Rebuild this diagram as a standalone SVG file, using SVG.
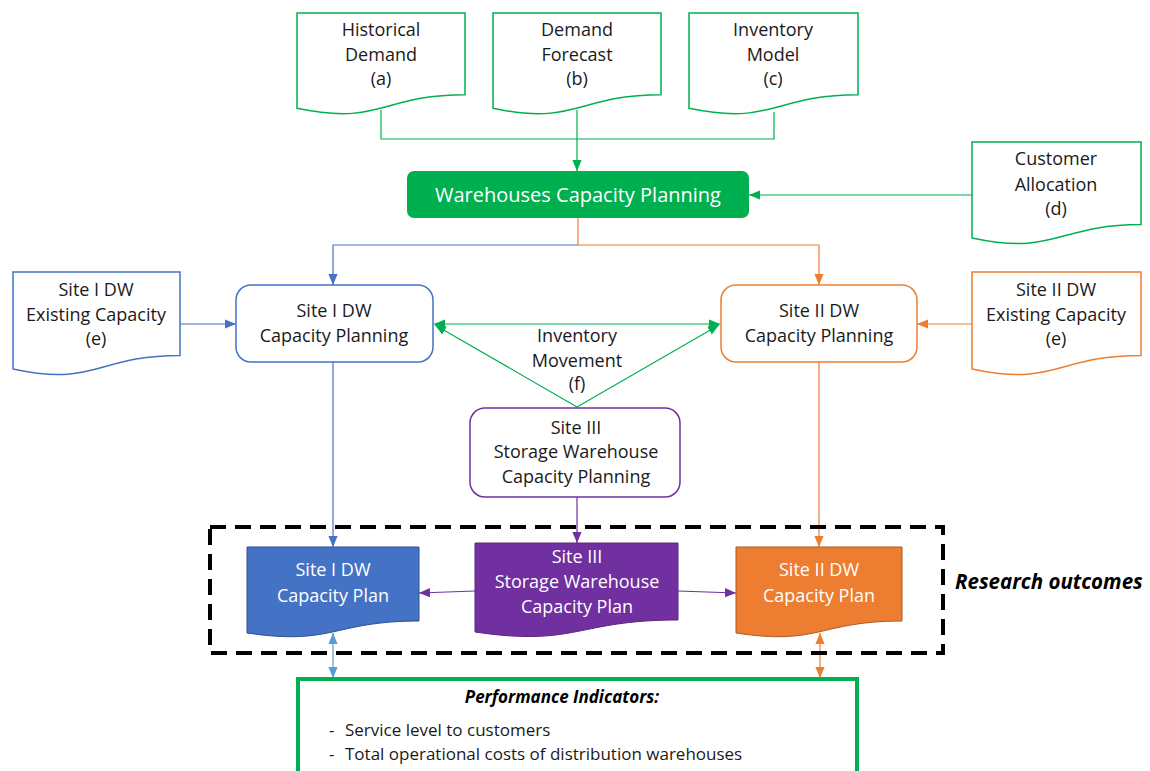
<svg xmlns="http://www.w3.org/2000/svg" width="1150" height="771" viewBox="0 0 1150 771">
<defs>
<style>
.t{font-family:"Open Sans","Liberation Sans",sans-serif;font-size:18px;fill:#1a1a1a;text-anchor:middle}
.w{fill:#ffffff}
.bi{font-weight:bold;font-style:italic}
.gdoc{fill:#ffffff;stroke:#00B050;stroke-width:1.5}
.bdoc{fill:#ffffff;stroke:#4472C4;stroke-width:1.5}
.odoc{fill:#ffffff;stroke:#ED7D31;stroke-width:1.5}
.c{fill:none;stroke-width:1.2}
</style>
<marker id="ag" viewBox="0 0 10 10" refX="10" refY="5" markerWidth="11" markerHeight="11" markerUnits="userSpaceOnUse" orient="auto-start-reverse"><path d="M0,0.8 L10,5 L0,9.2 z" fill="#00B050"/></marker>
<marker id="ab" viewBox="0 0 10 10" refX="10" refY="5" markerWidth="11" markerHeight="11" markerUnits="userSpaceOnUse" orient="auto-start-reverse"><path d="M0,0.8 L10,5 L0,9.2 z" fill="#4472C4"/></marker>
<marker id="alb" viewBox="0 0 10 10" refX="10" refY="5" markerWidth="11" markerHeight="11" markerUnits="userSpaceOnUse" orient="auto-start-reverse"><path d="M0,0.8 L10,5 L0,9.2 z" fill="#5B9BD5"/></marker>
<marker id="ao" viewBox="0 0 10 10" refX="10" refY="5" markerWidth="11" markerHeight="11" markerUnits="userSpaceOnUse" orient="auto-start-reverse"><path d="M0,0.8 L10,5 L0,9.2 z" fill="#ED7D31"/></marker>
<marker id="ap" viewBox="0 0 10 10" refX="10" refY="5" markerWidth="11" markerHeight="11" markerUnits="userSpaceOnUse" orient="auto-start-reverse"><path d="M0,0.8 L10,5 L0,9.2 z" fill="#7030A0"/></marker>
</defs>
<rect width="1150" height="771" fill="#ffffff"/>

<g id="connectors">
<path class="c" d="M381,110 V139 H774 V112" stroke="#00B050"/>
<path class="c" d="M577,110 V171" stroke="#00B050" marker-end="url(#ag)"/>
<path class="c" d="M972,195 H749" stroke="#00B050" marker-end="url(#ag)"/>
<path class="c" d="M578,218 V245" stroke="#ED7D31"/>
<path class="c" d="M578,245 H333 V285" stroke="#4472C4" marker-end="url(#ab)"/>
<path class="c" d="M578,245 H819 V285" stroke="#ED7D31" marker-end="url(#ao)"/>
<path class="c" d="M180,324 H236" stroke="#4472C4" marker-end="url(#ab)"/>
<path class="c" d="M972,324 H917" stroke="#ED7D31" marker-end="url(#ao)"/>
<path class="c" d="M434,324 H720" stroke="#00B050" marker-start="url(#ag)" marker-end="url(#ag)"/>
<path class="c" d="M577,407 L435,325" stroke="#00B050" marker-end="url(#ag)"/>
<path class="c" d="M577,407 L719,325" stroke="#00B050" marker-end="url(#ag)"/>
<path class="c" d="M333,362 V547" stroke="#4472C4" marker-end="url(#ab)"/>
<path class="c" d="M819,362 V547" stroke="#ED7D31" marker-end="url(#ao)"/>
<path class="c" d="M577,497 V543" stroke="#7030A0" marker-end="url(#ap)"/>
<path class="c" d="M475,591 L419,593" stroke="#7030A0" marker-end="url(#ap)"/>
<path class="c" d="M678,591 L736,593" stroke="#7030A0" marker-end="url(#ap)"/>
<path class="c" d="M333,633 V678" stroke="#5B9BD5" marker-start="url(#alb)" marker-end="url(#alb)"/>
<path class="c" d="M820,633 V678" stroke="#ED7D31" marker-start="url(#ao)" marker-end="url(#ao)"/>
</g>

<g id="historical-demand">
<path class="gdoc" d="M297,13 H465 V94.8 C381,94.8 381,126 297,108.3 Z"/>
<text class="t" x="381" y="36">Historical</text>
<text class="t" x="381" y="61">Demand</text>
<text class="t" x="381" y="85">(a)</text>
</g>
<g id="demand-forecast">
<path class="gdoc" d="M493,13 H661 V94.8 C577,94.8 577,126 493,108.3 Z"/>
<text class="t" x="577" y="36">Demand</text>
<text class="t" x="577" y="61">Forecast</text>
<text class="t" x="577" y="85">(b)</text>
</g>
<g id="inventory-model">
<path class="gdoc" d="M689,13 H858 V94.8 C773.5,94.8 773.5,126 689,108.3 Z"/>
<text class="t" x="773" y="36">Inventory</text>
<text class="t" x="773" y="61">Model</text>
<text class="t" x="773" y="85">(c)</text>
</g>
<g id="customer-allocation">
<path class="gdoc" d="M972,142 H1141 V224.6 C1056.5,224.6 1056.5,256 972,238 Z"/>
<text class="t" x="1056" y="165">Customer</text>
<text class="t" x="1056" y="191">Allocation</text>
<text class="t" x="1056" y="215">(d)</text>
</g>
<g id="warehouses-capacity-planning">
<rect x="407" y="171" width="342" height="47" rx="7" fill="#00B050"/>
<text class="t w" x="578" y="202" style="font-size:20px">Warehouses Capacity Planning</text>
</g>
<g id="site1-existing">
<path class="bdoc" d="M13,272 H180 V355.4 C96.5,355.4 96.5,387 13,369 Z"/>
<text class="t" x="96" y="296">Site I DW</text>
<text class="t" x="96" y="321">Existing Capacity</text>
<text class="t" x="96" y="345">(e)</text>
</g>
<g id="site2-existing">
<path class="odoc" d="M972,272 H1141 V355.4 C1056.5,355.4 1056.5,387 972,369 Z"/>
<text class="t" x="1056" y="296">Site II DW</text>
<text class="t" x="1056" y="321">Existing Capacity</text>
<text class="t" x="1056" y="345">(e)</text>
</g>
<g id="site1-planning">
<rect x="236" y="285" width="197" height="77" rx="15" fill="#ffffff" stroke="#4472C4" stroke-width="1.5"/>
<text class="t" x="334" y="317">Site I DW</text>
<text class="t" x="334" y="342">Capacity Planning</text>
</g>
<g id="site2-planning">
<rect x="721" y="285" width="196" height="77" rx="15" fill="#ffffff" stroke="#ED7D31" stroke-width="1.5"/>
<text class="t" x="819" y="317">Site II DW</text>
<text class="t" x="819" y="342">Capacity Planning</text>
</g>
<g id="inventory-movement">
<text class="t" x="577" y="342">Inventory</text>
<text class="t" x="577" y="367">Movement</text>
<text class="t" x="577" y="390">(f)</text>
</g>
<g id="site3-planning">
<rect x="470" y="408" width="210" height="89" rx="15" fill="#ffffff" stroke="#7030A0" stroke-width="1.5"/>
<text class="t" x="576" y="434">Site III</text>
<text class="t" x="576" y="458">Storage Warehouse</text>
<text class="t" x="576" y="483">Capacity Planning</text>
</g>
<g id="research-outcomes">
<rect x="210" y="527" width="733" height="126" fill="none" stroke="#000000" stroke-width="4" stroke-dasharray="16,9"/>
<text class="t bi" x="955" y="589" style="text-anchor:start;font-size:20.5px;fill:#000">Research outcomes</text>
</g>
<g id="site1-plan">
<path d="M247,547 H419 V621 C333,621 333,646 247,633 Z" fill="#4472C4" stroke="#2F528F" stroke-width="1"/>
<text class="t w" x="333" y="576">Site I DW</text>
<text class="t w" x="333" y="602">Capacity Plan</text>
</g>
<g id="site3-plan">
<path d="M475,543 H678 V620 C576.5,620 576.5,647 475,632 Z" fill="#7030A0" stroke="#5A2680" stroke-width="1"/>
<text class="t w" x="577" y="563">Site III</text>
<text class="t w" x="577" y="588">Storage Warehouse</text>
<text class="t w" x="577" y="613">Capacity Plan</text>
</g>
<g id="site2-plan">
<path d="M736,547 H902 V621 C819,621 819,646 736,633 Z" fill="#ED7D31" stroke="#AE5A21" stroke-width="1"/>
<text class="t w" x="819" y="576">Site II DW</text>
<text class="t w" x="819" y="602">Capacity Plan</text>
</g>
<g id="performance-indicators">
<rect x="298" y="679" width="559" height="130" fill="#ffffff" stroke="#00B050" stroke-width="4"/>
<text class="t bi" x="562" y="703" style="font-size:17px;fill:#000">Performance Indicators:</text>
<text class="t" style="text-anchor:start;font-size:17px"><tspan x="329" y="736">-</tspan><tspan x="345" y="736">Service level to customers</tspan></text>
<text class="t" style="text-anchor:start;font-size:17px"><tspan x="329" y="760">-</tspan><tspan x="345" y="760">Total operational costs of distribution warehouses</tspan></text>
</g>
</svg>
